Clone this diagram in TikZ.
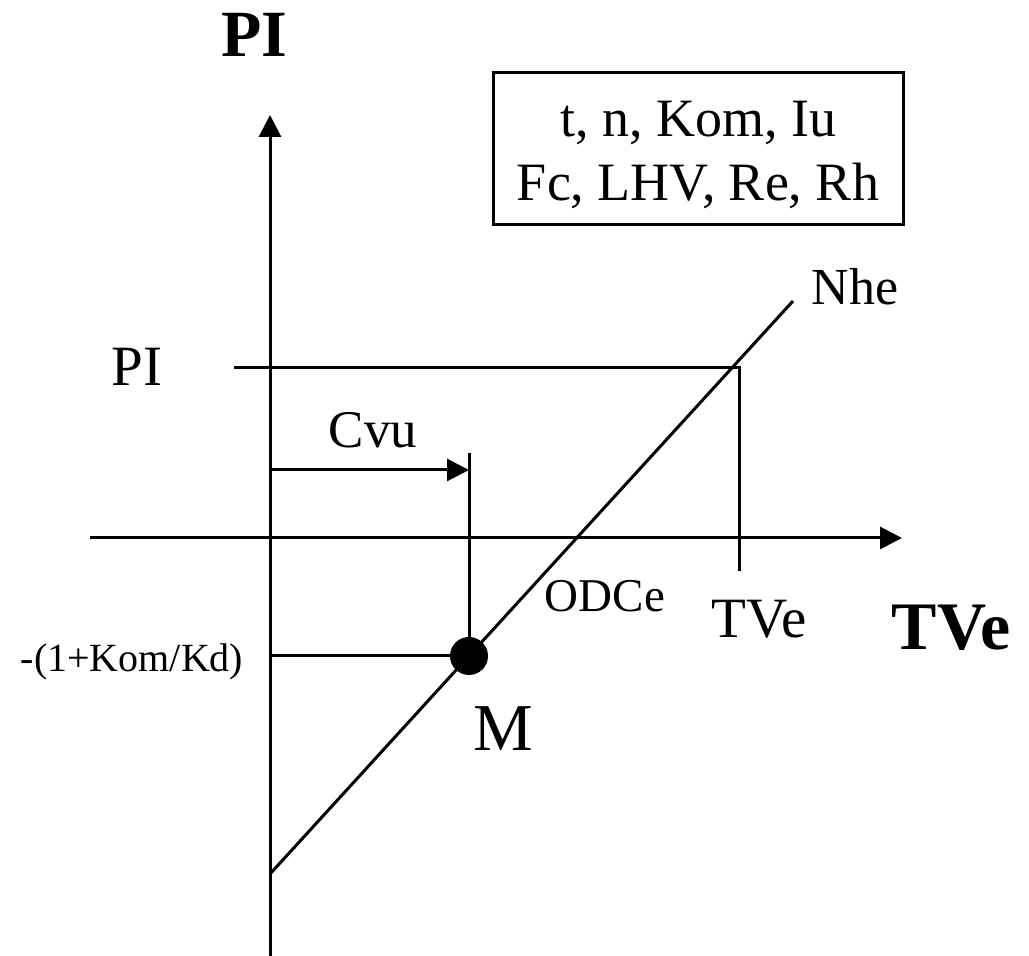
\documentclass[tikz,border=0pt]{standalone}
\usepackage{fontspec}
\setmainfont{Liberation Serif}
\usetikzlibrary{arrows.meta}
\tikzset{
  ln/.style={line width=1.5pt, line cap=butt},
  axis/.style={ln, -{Triangle[length=11pt,width=11pt]}},
  lbl/.style={anchor=base, inner sep=0pt, font=#1},
}
\begin{document}
\begin{tikzpicture}[x=0.5pt,y=-0.5pt]
\useasboundingbox (0,0) rectangle (1029,956);
% coordinates
\coordinate (ytop) at (270,115);
\coordinate (ybot) at (270,956);
\coordinate (xleft) at (90,538);
\coordinate (xright) at (902,538);
\coordinate (pistart) at (234,368);
\coordinate (picorner) at (739,368);
\coordinate (piend) at (739,571);
\coordinate (cvustart) at (270,470);
\coordinate (cvuend) at (469,470);
\coordinate (cvutop) at (469,453);
\coordinate (mleft) at (270,656);
\coordinate (nhelow) at (270,874);
\coordinate (nhehigh) at (793,301);
% axes
\draw[axis] (ybot) -- (ytop);
\draw[axis] (xleft) -- (xright);
% PI / TVe projection
\draw[ln, line join=miter] (pistart) -- (picorner) -- (piend);
% Nhe line
\draw[ln] (nhelow) -- (nhehigh);
% point M
\node[circle, fill=black, inner sep=0pt, minimum size=19pt] (M) at (469,656) {};
\draw[ln] (cvutop) -- (M.center);
\draw[ln] (mleft) -- (M.center);
\draw[axis] (cvustart) -- (cvuend);
% labels
\node[lbl={\fontsize{33}{36}\selectfont\bfseries}] (piaxis) at (254,57) {PI};
\node[lbl={\fontsize{34}{36}\selectfont\bfseries}] (tveaxis) at (951,650) {TVe};
\node[lbl={\fontsize{28.5}{32}\selectfont}] (pival) at (137,386) {PI};
\node[lbl={\fontsize{28.5}{32}\selectfont}] (tveval) at (759,638) {TVe};
\node[lbl={\fontsize{26.5}{30}\selectfont}] (cvu) at (373,448) {Cvu};
\node[lbl={\fontsize{26}{30}\selectfont}] (nhe) at (855,305) {Nhe};
\node[lbl={\fontsize{23.5}{28}\selectfont}] (odce) at (605,612) {ODCe};
\node[lbl={\fontsize{20}{24}\selectfont}] (kom) at (132,672) {-(1+Kom/Kd)};
\node[lbl={\fontsize{33.5}{36}\selectfont}] (mlbl) at (503,751) {M};
% parameter box
\draw[ln] (493,73) rectangle (903,225);
\node[lbl={\fontsize{27}{32}\selectfont}] (par1) at (698,137) {t, n, Kom, Iu};
\node[lbl={\fontsize{27}{32}\selectfont}] (par2) at (698,201) {Fc, LHV, Re, Rh};
\end{tikzpicture}
\end{document}
